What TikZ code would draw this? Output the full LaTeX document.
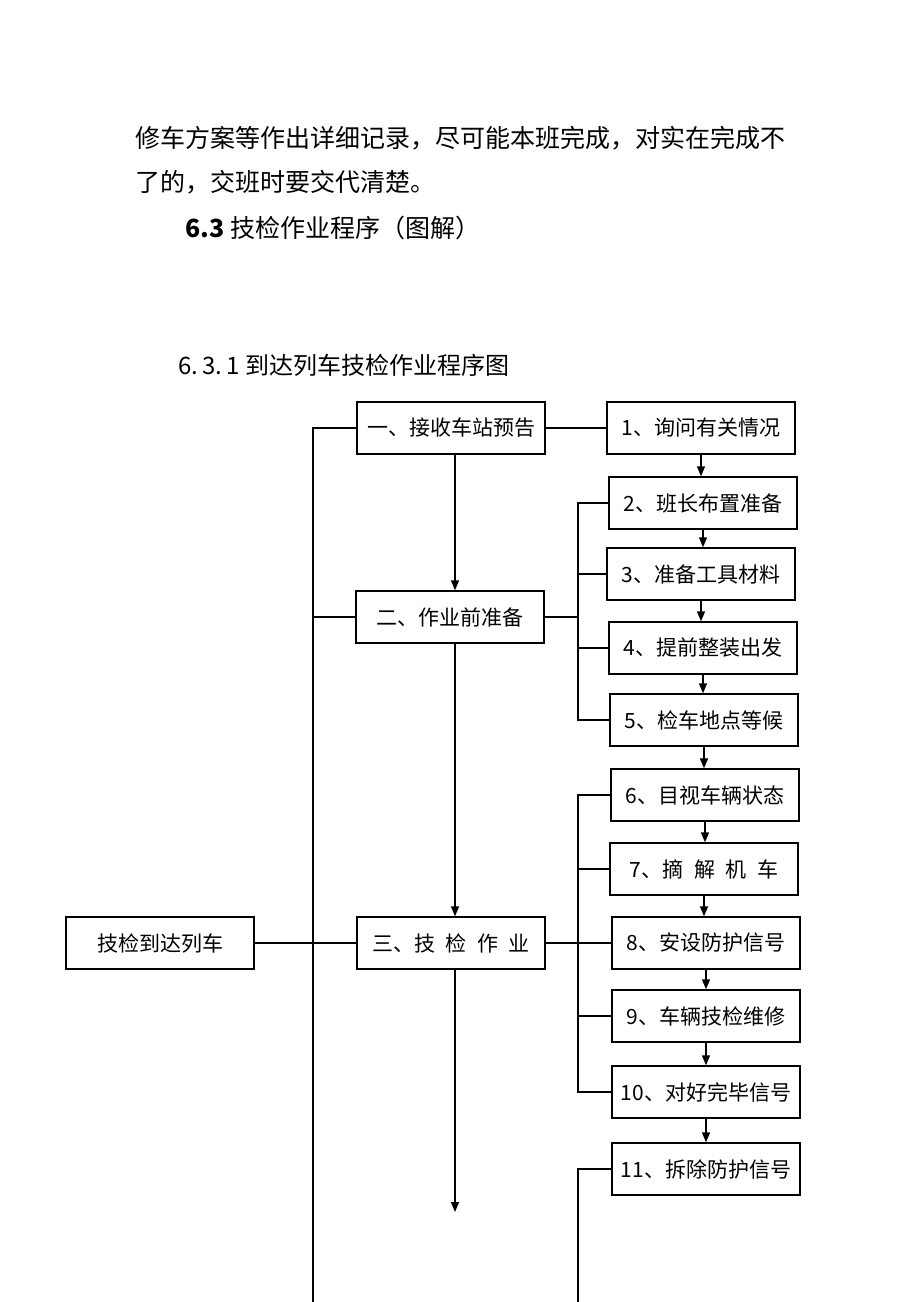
\documentclass[tikz,border=0pt]{standalone}
\usepackage{fontspec}
\setmainfont{Noto Sans CJK SC}
\usetikzlibrary{positioning,arrows.meta}

\begin{document}
\begin{tikzpicture}[x=0.5pt, y=-0.5pt, >={Triangle[length=5pt,width=4pt]},
    box/.style={draw, line width=0.7pt, minimum width=94pt, minimum height=26pt,
                inner sep=0pt, font=\fontsize{10.5}{12}\selectfont},
    txt/.style={anchor=west, inner sep=0pt, font=\fontsize{12.5}{15}\selectfont},
    link/.style={line width=0.7pt}]

    \useasboundingbox (0,0) rectangle (920,1302);

    \node[txt] (para1) at (135,138) {修车方案等作出详细记录，尽可能本班完成，对实在完成不};
    \node[txt] (para2) at (135,182) {了的，交班时要交代清楚。};
    \node[txt] (sec) at (185,228) {\textbf{6.3} 技检作业程序（图解）};
    \node[txt, font=\fontsize{12}{14}\selectfont] (subsec) at (178,365) {6.\,3.\,1 到达列车技检作业程序图};

    % main steps
    \node[box] (s1) at (451,428) {一、接收车站预告};
    \node[box] (s2) at (450,617) {二、作业前准备};
    \node[box] (s3) at (451,943) {三、技\enspace 检\enspace 作\enspace 业};
    \node[box] (root) at (160,943) {技检到达列车};

    % sub steps
    \node[box] (p1) at (701,428) {1、询问有关情况};
    \node[box] (p2) at (703,503) {2、班长布置准备};
    \node[box] (p3) at (701,574) {3、准备工具材料};
    \node[box] (p4) at (703,648) {4、提前整装出发};
    \node[box] (p5) at (704,720) {5、检车地点等候};
    \node[box] (p6) at (705,795) {6、目视车辆状态};
    \node[box] (p7) at (704,869) {7、摘\enspace 解\enspace 机\enspace 车};
    \node[box] (p8) at (706,943) {8、安设防护信号};
    \node[box] (p9) at (706,1016) {9、车辆技检维修};
    \node[box] (p10) at (706,1092) {10、对好完毕信号};
    \node[box] (p11) at (706,1169) {11、拆除防护信号};

    \coordinate (lbus) at (313,1302);
    \coordinate (rbus) at (578,1302);
    \coordinate (s3end) at (455,1212);

    \draw[link] (lbus) |- (s1.west);
    \draw[link] (s2.west) -- (s2.west -| lbus);
    \draw[link] (root) -- (s3);
    \draw[link] (s1) -- (p1);

    \draw[link,->] (s1.south -| s3end) -- (s2.north -| s3end);
    \draw[link,->] (s2.south -| s3end) -- (s3.north -| s3end);
    \draw[link,->] (s3.south -| s3end) -- (s3end);

    \draw[link] (p2.west) -- (p2.west -| rbus) |- (p5.west);
    \foreach \n in {s2.east, p3.west, p4.west}
        \draw[link] (\n) -- (\n -| rbus);

    \draw[link] (p6.west) -- (p6.west -| rbus) |- (p10.west);
    \foreach \n in {s3.east, p7.west, p8.west, p9.west}
        \draw[link] (\n) -- (\n -| rbus);

    \draw[link] (rbus) |- (p11.west);

    \foreach \a/\b in {p1/p2, p2/p3, p3/p4, p4/p5, p5/p6, p6/p7, p7/p8, p8/p9, p9/p10, p10/p11}
        \draw[link,->] (\a.south) -- (\a.south |- \b.north);

\end{tikzpicture}
\end{document}
